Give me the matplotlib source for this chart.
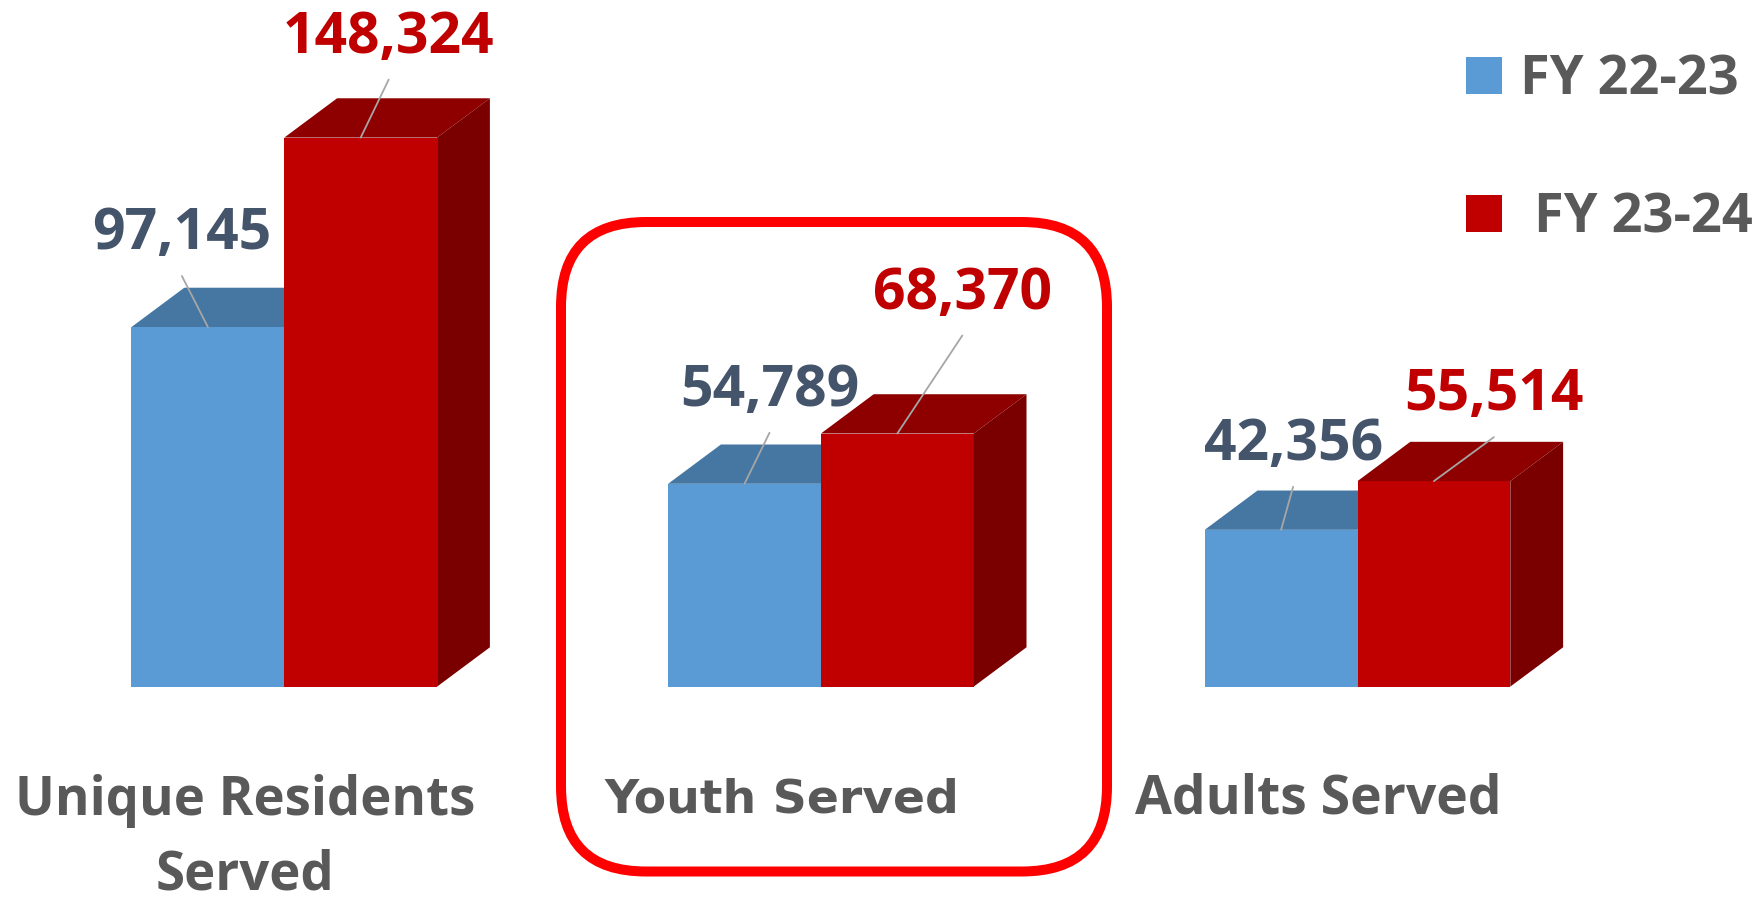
import matplotlib
matplotlib.use("Agg")
import matplotlib.pyplot as plt
from matplotlib.patches import Polygon, Patch, FancyBboxPatch

categories = ["Unique Residents\nServed", "Youth Served", "Adults Served"]
fy2223 = [97145, 54789, 42356]
fy2324 = [148324, 68370, 55514]
series_names = ["FY 22-23", " FY 23-24"]

BLUE, BLUE_TOP = "#5B9BD5", "#4677A3"
RED, RED_TOP, RED_SIDE = "#C00000", "#8E0000", "#7A0000"
LBL_BLUE, LBL_RED, GRAY = "#44546A", "#C00000", "#595959"

fig = plt.figure(figsize=(17.62, 9), dpi=100)
ax = fig.add_axes([0, 0, 1, 1])
ax.set_xlim(-0.5298, 2.7538)
ax.set_ylim(-57652, 185493)
ax.axis("off")

PXX = 536.6        # pixels per category unit
PXY = 0.0037015    # pixels per value unit
w = 152.8 / PXX
dx = 52.8 / PXX
dy = 39.3 / PXY

FONT = "Open Sans"

xs = range(len(categories))
ax.bar([x - w / 2 for x in xs], fy2223, width=w, color=BLUE, zorder=3)
for x, v in zip(xs, fy2223):
    ax.add_patch(Polygon([(x - w, v), (x, v), (x + dx, v + dy), (x - w + dx, v + dy)],
                         closed=True, facecolor=BLUE_TOP, edgecolor="none", zorder=2))
ax.bar([x + w / 2 for x in xs], fy2324, width=w, color=RED, zorder=4)
for x, v in zip(xs, fy2324):
    ax.add_patch(Polygon([(x, v), (x + w, v), (x + w + dx, v + dy), (x + dx, v + dy)],
                         closed=True, facecolor=RED_TOP, edgecolor="none", zorder=4))
    ax.add_patch(Polygon([(x + w, 0), (x + w + dx, dy), (x + w + dx, v + dy), (x + w, v)],
                         closed=True, facecolor=RED_SIDE, edgecolor="none", zorder=4))

# leader line offsets (pixels)
blue_off = [(-26, 51), (25, 51), (12, 43)]
red_off = [(28, 58), (65, 98), (60, 44)]
for vals, offs, sign, col in [(fy2223, blue_off, -1, LBL_BLUE), (fy2324, red_off, 1, LBL_RED)]:
    for x, v, (ox, oy) in zip(xs, vals, offs):
        bx = x + sign * w / 2
        ax.annotate("", xy=(bx, v), xytext=(ox, oy), textcoords="offset pixels",
                    arrowprops=dict(arrowstyle="-", color="#A6A6A6", lw=1.3,
                                    shrinkA=0, shrinkB=0), zorder=6)
        ax.annotate(f"{v:,}", xy=(bx, v), xytext=(ox, oy + 42), textcoords="offset pixels",
                    ha="center", va="center", fontsize=41, fontweight="bold",
                    family=FONT, color=col, zorder=7)

# category labels
cat_fonts = [FONT, "DejaVu Sans", FONT]
cat_sizes = [38, 34, 38.5]
for x, lab, fnt, fs in zip(xs, categories, cat_fonts, cat_sizes):
    oy = -152 if "\n" in lab else -113
    ax.annotate(lab, xy=(x, 0), xytext=(-39, oy), textcoords="offset pixels",
                ha="center", va="center", fontsize=fs, fontweight="bold",
                family=fnt, color=GRAY, linespacing=1.5, multialignment="center")

# highlight box
box = FancyBboxPatch((5.61, 0.285), 11.07 - 5.61, 6.78 - 0.285,
                     boxstyle="round,pad=0,rounding_size=0.85",
                     transform=fig.dpi_scale_trans, facecolor="none",
                     edgecolor="#FF0000", lw=7.2, zorder=10)
fig.patches.append(box)

handles = [Patch(facecolor=BLUE), Patch(facecolor=RED)]
fig.legend(handles, series_names, loc="center left", bbox_to_anchor=(0.832, 0.8336),
           frameon=False, borderpad=0, borderaxespad=0, handlelength=0.67,
           handleheight=0.67, handletextpad=0.33, labelspacing=1.55,
           prop=dict(family=FONT, weight="bold", size=39), labelcolor=GRAY)

fig.savefig("out.png", dpi=100, facecolor="white")
